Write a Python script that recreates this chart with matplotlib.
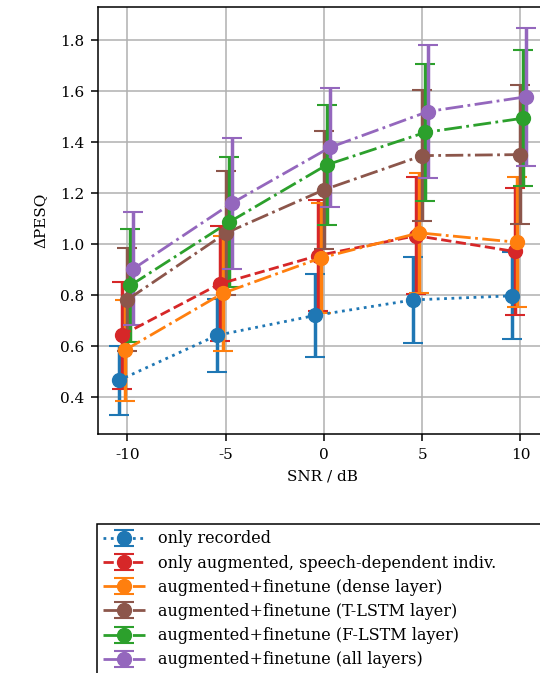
import numpy as np
import matplotlib
matplotlib.use("Agg")
import matplotlib.pyplot as plt

plt.rcParams['font.family'] = ['DejaVu Serif']
plt.rcParams['axes.unicode_minus'] = False
plt.rcParams['font.size'] = 11
plt.rcParams['axes.linewidth'] = 1.1

snr = np.array([-10, -5, 0, 5, 10])

labels = [
    "only recorded",
    "only augmented, speech-dependent indiv.",
    "augmented+finetune (dense layer)",
    "augmented+finetune (T-LSTM layer)",
    "augmented+finetune (F-LSTM layer)",
    "augmented+finetune (all layers)",
]
colors = ["tab:blue", "tab:red", "tab:orange", "tab:brown", "tab:green", "tab:purple"]
styles = [":", "--", "-.", "-.", "-.", "-."]

# mean delta-PESQ per SNR
recorded = [0.465, 0.642, 0.720, 0.781, 0.797]
aug_indiv = [0.642, 0.844, 0.955, 1.033, 0.971]
ft_dense = [0.583, 0.807, 0.946, 1.044, 1.007]
ft_tlstm = [0.782, 1.043, 1.213, 1.347, 1.351]
ft_flstm = [0.838, 1.085, 1.311, 1.438, 1.494]
ft_all = [0.903, 1.160, 1.379, 1.520, 1.578]

# standard deviations
recorded_sd = [0.137, 0.142, 0.161, 0.169, 0.171]
aug_indiv_sd = [0.211, 0.225, 0.216, 0.229, 0.248]
ft_dense_sd = [0.199, 0.226, 0.217, 0.234, 0.255]
ft_tlstm_sd = [0.201, 0.244, 0.232, 0.258, 0.272]
ft_flstm_sd = [0.222, 0.255, 0.236, 0.269, 0.267]
ft_all_sd = [0.221, 0.257, 0.233, 0.261, 0.271]

means = [recorded, aug_indiv, ft_dense, ft_tlstm, ft_flstm, ft_all]
sds = [recorded_sd, aug_indiv_sd, ft_dense_sd, ft_tlstm_sd, ft_flstm_sd, ft_all_sd]
offsets = [-0.45, -0.3, -0.15, 0.0, 0.15, 0.3]

fig = plt.figure(figsize=(5.4, 6.73), dpi=100)
ax = fig.add_axes([98 / 540, 239 / 673, 447 / 540, 427 / 673])

for m, s, c, ls, lab, off in zip(means, sds, colors, styles, labels, offsets):
    ax.errorbar(snr + off, m, yerr=s, color=c, linestyle=ls, linewidth=2,
                marker='o', markersize=10, capsize=7, capthick=1.5,
                elinewidth=2.5, label=lab)

ax.set_xlim(-11.5, 11.25)
ax.set_ylim(0.255, 1.93)
ax.set_xticks(snr)
ax.set_xticklabels([str(v) for v in snr])
ax.set_yticks(np.arange(0.4, 1.81, 0.2))
ax.tick_params(length=5, width=1.1, pad=5)
ax.grid(True, color='#b0b0b0', linewidth=1.1)
ax.set_axisbelow(True)
ax.set_xlabel("SNR / dB")
ax.set_ylabel("ΔPESQ")
ax.xaxis.set_label_coords(0.502, -0.082)
ax.yaxis.set_label_coords(-0.112, 0.5)

leg = ax.legend(loc='upper left', bbox_to_anchor=(-0.002, -0.211, 1.0, 0.0),
                mode='expand', borderaxespad=0, fancybox=False, framealpha=1,
                edgecolor='black', fontsize=11.5, handlelength=2.6,
                labelspacing=0.45)
leg.get_frame().set_linewidth(1.1)

fig.savefig("out.png", dpi=100)
